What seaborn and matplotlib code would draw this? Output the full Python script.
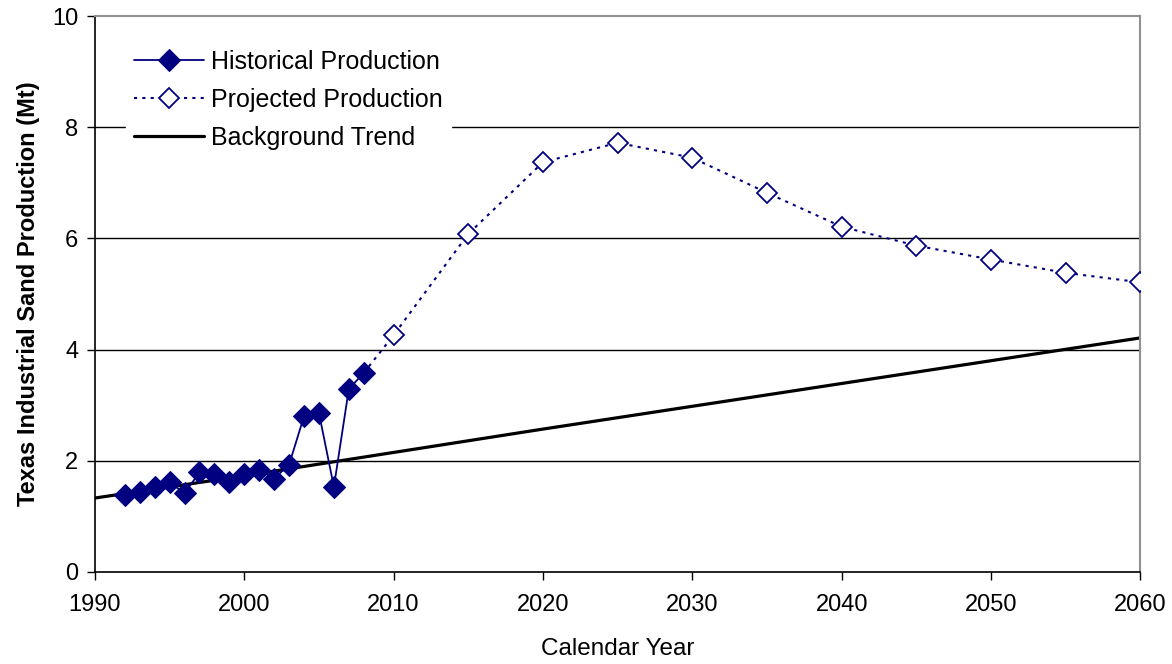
import numpy as np
import pandas as pd
import matplotlib
matplotlib.use("Agg")
import matplotlib.pyplot as plt
import seaborn as sns

# historical production (Mt)
hist_years = [1992, 1993, 1994, 1995, 1996, 1997, 1998, 1999, 2000,
              2001, 2002, 2003, 2004, 2005, 2006, 2007, 2008]
hist_prod = [1.39, 1.44, 1.53, 1.61, 1.42, 1.79, 1.76, 1.62, 1.77,
             1.84, 1.68, 1.93, 2.80, 2.86, 1.53, 3.29, 3.58]

# projected production (first point joins the last historical one)
proj_years = [2008, 2010, 2015, 2020, 2025, 2030, 2035, 2040, 2045, 2050, 2055, 2060]
proj_prod = [3.58, 4.26, 6.08, 7.37, 7.72, 7.45, 6.82, 6.21, 5.87, 5.62, 5.38, 5.21]

# background trend
trend_years = [1990, 2000, 2010, 2020, 2030, 2040, 2050, 2060]
trend_prod = [1.33, 1.73, 2.15, 2.57, 2.98, 3.39, 3.80, 4.21]

x_ticks = list(range(1990, 2061, 10))
y_ticks = [0, 2, 4, 6, 8, 10]

navy = "#000080"

sns.set_style("white")
plt.rcParams["font.family"] = ["Liberation Sans", "DejaVu Sans"]
plt.rcParams["text.color"] = "black"
plt.rcParams["axes.labelcolor"] = "black"
plt.rcParams["xtick.color"] = "black"
plt.rcParams["ytick.color"] = "black"

fig = plt.figure(figsize=(11.72, 6.64), dpi=100)
ax = fig.add_axes([0.081, 0.1386, 0.892, 0.8373])

hist = pd.DataFrame({"Year": hist_years, "Prod": hist_prod})
proj = pd.DataFrame({"Year": proj_years, "Prod": proj_prod})
trend = pd.DataFrame({"Year": trend_years, "Prod": trend_prod})

sns.lineplot(data=trend, x="Year", y="Prod", ax=ax, color="black",
             linewidth=2.3, label="Background Trend", zorder=2)
sns.lineplot(data=proj, x="Year", y="Prod", ax=ax, color=navy,
             linewidth=1.5, linestyle=(0, (1.5, 2.5)), marker="D",
             markersize=10, markerfacecolor="white", markeredgecolor=navy,
             markeredgewidth=1.3, markevery=slice(1, None),
             label="Projected Production", zorder=3)
sns.lineplot(data=hist, x="Year", y="Prod", ax=ax, color=navy,
             linewidth=1.3, marker="D", markersize=11,
             markerfacecolor=navy, markeredgecolor=navy,
             label="Historical Production", zorder=4)

ax.set_xlim(1990, 2060)
ax.set_ylim(0, 10)
ax.set_xticks(x_ticks)
ax.set_yticks(y_ticks)
ax.tick_params(axis="both", bottom=True, left=True, direction="out",
               length=6, width=1, color="black", labelcolor="black",
               labelsize=17)
ax.tick_params(axis="x", pad=10)
ax.tick_params(axis="y", pad=6)
ax.set_xlabel("Calendar Year", fontsize=17.5, labelpad=16, color="black")
ax.set_ylabel("Texas Industrial Sand Production (Mt)", fontsize=17,
              fontweight="bold", labelpad=9, color="black")

for y in [2, 4, 6, 8]:
    ax.axhline(y, color="black", linewidth=1, zorder=1)

for side in ["left", "bottom"]:
    ax.spines[side].set_color("black")
    ax.spines[side].set_linewidth(1.2)
for side in ["top", "right"]:
    ax.spines[side].set_color("#909090")
    ax.spines[side].set_linewidth(1.5)

handles, labels = ax.get_legend_handles_labels()
order = [labels.index(n) for n in
         ["Historical Production", "Projected Production", "Background Trend"]]
leg = ax.legend([handles[i] for i in order], [labels[i] for i in order],
                loc="upper left", bbox_to_anchor=(0.03, 0.952),
                fontsize=18, frameon=True, fancybox=False,
                handlelength=2.8, handletextpad=0.3, labelspacing=0.55,
                borderpad=0.3, borderaxespad=0)
leg.get_frame().set_edgecolor("white")
leg.get_frame().set_facecolor("white")
leg.get_frame().set_alpha(1)
leg.set_zorder(5)
for t in leg.get_texts():
    t.set_color("black")

fig.savefig("out.png", dpi=100)
